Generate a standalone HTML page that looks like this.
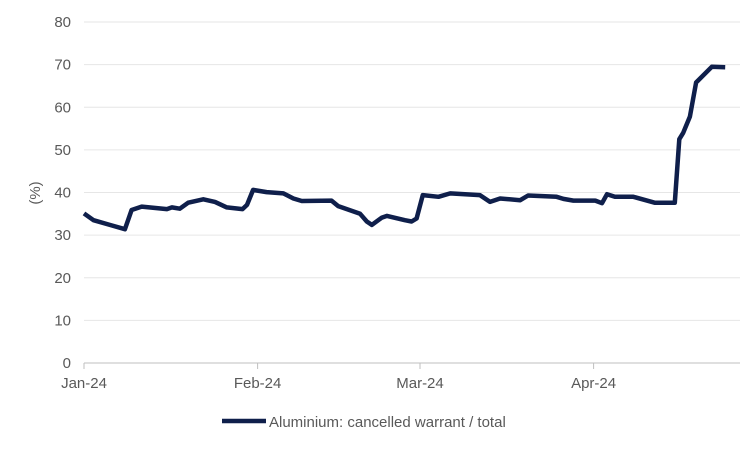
<!DOCTYPE html>
<html><head><meta charset="utf-8"><style>
body{margin:0;background:#fff;}
svg text{font-family:"Liberation Sans",Arial,sans-serif;fill:#595959;font-size:15px;}
</style></head><body>
<svg width="750" height="450" xmlns="http://www.w3.org/2000/svg">
<g id="grid"></g><g id="yt"></g><g id="xt"></g>
<text transform="translate(40,193) rotate(-90)" text-anchor="middle">(%)</text>
<path id="series" fill="none" stroke="#0f1f4b" stroke-width="4.5" stroke-linejoin="round"/>
<g>
<line x1="222" y1="421" x2="266" y2="421" stroke="#0f1f4b" stroke-width="4.5"/>
<text x="269" y="427">Aluminium: cancelled warrant / total</text>
</g>
</svg>
<script>
const days=[0,1.7,4.6,7.3,8.5,10.3,14.8,15.7,17.1,18.6,21.3,23.4,25.5,28.3,29.1,30.2,32.6,35.6,37.4,38.9,44.2,45.4,49.3,50.5,51.4,53.2,54.1,57.3,58.5,59.4,60.5,63.3,65.4,70.7,72.5,74.3,77.9,79.3,84.4,85.6,87.4,91.3,92.5,93.4,94.8,98.1,101.9,105.5,106.3,107,108.2,109.3,112.1,114.5];
const values=[35.1,33.5,32.4,31.4,35.9,36.7,36.1,36.5,36.2,37.6,38.4,37.8,36.5,36.1,37.1,40.6,40.1,39.8,38.6,38.0,38.1,36.8,35.0,33.2,32.4,34.1,34.5,33.5,33.2,33.9,39.4,39.0,39.8,39.4,37.8,38.6,38.2,39.3,39.0,38.5,38.1,38.1,37.5,39.6,39.0,39.0,37.6,37.6,52.5,54.0,57.8,65.8,69.5,69.4];
const yTicks=[0,10,20,30,40,50,60,70,80];
const xLabels=["Jan-24","Feb-24","Mar-24","Apr-24"];
const xLabelDays=[0,31,60,91];
const NS="http://www.w3.org/2000/svg";
const X=d=>84+d*5.6, Y=v=>363-v*4.2625;
const grid=document.getElementById('grid'),yt=document.getElementById('yt'),xt=document.getElementById('xt');
yTicks.forEach(t=>{
 const l=document.createElementNS(NS,'line');
 
 
 l.setAttribute('x1',84);l.setAttribute('x2',740);l.setAttribute('y1',Y(t));l.setAttribute('y2',Y(t));
 l.setAttribute('stroke',t===0?'#bfbfbf':'#e6e6e6');l.setAttribute('stroke-width',1);
 grid.appendChild(l);
 const tx=document.createElementNS(NS,'text');
 
 
 tx.setAttribute('x',71);tx.setAttribute('y',Y(t)+5);tx.setAttribute('text-anchor','end');tx.textContent=t;
 yt.appendChild(tx);
});
xLabels.forEach((s,i)=>{
 const x=X(xLabelDays[i]);
 const tk=document.createElementNS(NS,'line');
 
 
 tk.setAttribute('x1',x);tk.setAttribute('x2',x);tk.setAttribute('y1',363);tk.setAttribute('y2',369);tk.setAttribute('stroke','#bfbfbf');
 xt.appendChild(tk);
 const tx=document.createElementNS(NS,'text');
 
 
 tx.setAttribute('x',x);tx.setAttribute('y',388);tx.setAttribute('text-anchor','middle');tx.textContent=s;
 xt.appendChild(tx);
});
document.getElementById('series').setAttribute('d',days.map((d,i)=>(i?'L':'M')+X(d).toFixed(1)+','+Y(values[i]).toFixed(1)).join(''));
</script>
</body></html>
